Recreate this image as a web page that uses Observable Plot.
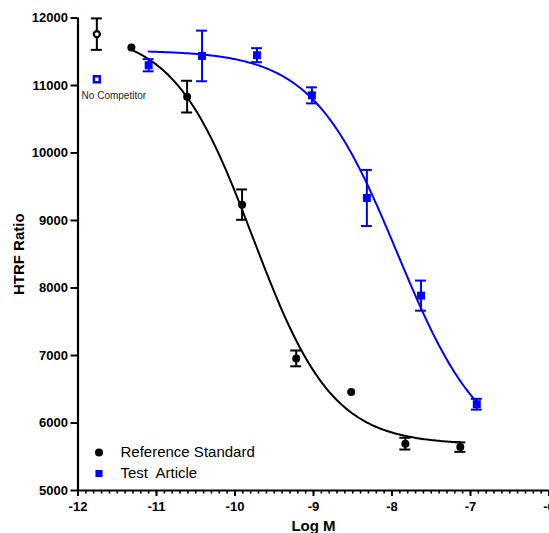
<!DOCTYPE html>
<html>
<head>
<meta charset="utf-8">
<script src="https://cdn.jsdelivr.net/npm/d3@7"></script>
<script src="https://cdn.jsdelivr.net/npm/@observablehq/plot@0.6"></script>
<style>
  html, body { margin: 0; padding: 0; background: #fff; }
  #chart { width: 549px; height: 533px; overflow: hidden; }
  #chart svg text { white-space: pre; }
</style>
</head>
<body>
<div id="chart"></div>
<script>
// Competition binding: HTRF ratio vs log molar concentration
const seriesNames = ["Reference Standard", "Test  Article"];
const seriesColors = ["#000000", "#0000ff"];

const refX = [-11.32, -10.61, -9.91, -9.22, -8.52, -7.83, -7.13];
const refY = [11563, 10835, 9235, 6957, 6461, 5694, 5643];
const refErr = [0, 235, 225, 117, 0, 87, 70];

const testX = [-11.10, -10.42, -9.72, -9.02, -8.32, -7.63, -6.92];
const testY = [11300, 11438, 11449, 10854, 9334, 7887, 6278];
const testErr = [90, 375, 104, 119, 416, 223, 80];

// "No Competitor" control wells
const noCompLabel = "No Competitor";
const noCompX = -11.76;
const noCompRefY = 11761, noCompRefErr = 233;
const noCompTestY = 11092, noCompTestErr = 0;

// Four-parameter logistic fit parameters
const refFit = {top: 11800, bottom: 5680, logIC50: -9.77, hill: 0.86};
const testFit = {top: 11520, bottom: 5500, logIC50: -7.93, hill: 0.80};

const xTicks = [-12, -11, -10, -9, -8, -7, -6];
const yTicks = [5000, 6000, 7000, 8000, 9000, 10000, 11000, 12000];
const xLabel = "Log M";
const yLabel = "HTRF Ratio";

// --- derived tables ---
const toRows = (xs, ys, es) => xs.map((x, i) => ({x, y: ys[i], e: es[i]}));
const refRows = toRows(refX, refY, refErr);
const testRows = toRows(testX, testY, testErr);
const ncRef = [{x: noCompX, y: noCompRefY, e: noCompRefErr}];
const ncTest = [{x: noCompX, y: noCompTestY, e: noCompTestErr}];

const logistic = (p) => (x) => p.bottom + (p.top - p.bottom) / (1 + Math.pow(10, (x - p.logIC50) * p.hill));
function fitCurve(p, xs) {
  const f = logistic(p);
  const x0 = d3.min(xs), x1 = d3.max(xs), n = 200;
  return d3.range(n + 1).map(i => { const x = x0 + (x1 - x0) * i / n; return {x, y: f(x)}; });
}
const refCurve = fitCurve(refFit, refX);
const testCurve = fitCurve(testFit, testX);

const minorTicks = d3.range(0, 61).map(i => -12 + i / 10);

// layout
const W = 549, H = 533;
const mL = 77.5, mR = 0.5, mT = 17.5, mB = 43;
const pxPerUnit = (W - mL - mR) / (xTicks[xTicks.length - 1] - xTicks[0]);
const capHalf = 5.5 / pxPerUnit;

// error bars are hidden when shorter than the symbol
function errorBars(rows, color) {
  const shown = rows.filter(d => d.e > 0);
  return [
    Plot.ruleX(shown, {x: "x", y1: d => d.y - d.e, y2: d => d.y + d.e, stroke: color, strokeWidth: 2}),
    Plot.ruleY(shown, {y: d => d.y + d.e, x1: d => d.x - capHalf, x2: d => d.x + capHalf, stroke: color, strokeWidth: 2}),
    Plot.ruleY(shown, {y: d => d.y - d.e, x1: d => d.x - capHalf, x2: d => d.x + capHalf, stroke: color, strokeWidth: 2})
  ];
}

const font = "'Liberation Sans', Arial, Helvetica, sans-serif";

const chart = Plot.plot({
  width: W, height: H,
  marginLeft: mL, marginRight: mR, marginTop: mT, marginBottom: mB,
  style: {fontFamily: font, background: "#fff", color: "#000", overflow: "hidden"},
  x: {domain: [xTicks[0], xTicks[xTicks.length - 1]]},
  y: {domain: [yTicks[0], yTicks[yTicks.length - 1]]},
  marks: [
    // axes
    Plot.axisY(yTicks, {tickSize: 7, tickPadding: 3, strokeWidth: 2, fontSize: 13, fontWeight: "bold", label: null, tickFormat: d => String(d)}),
    Plot.axisX(minorTicks, {tickSize: 3.5, strokeWidth: 1.6, tickFormat: () => "", label: null}),
    Plot.axisX(xTicks, {tickSize: 6, tickPadding: 5, strokeWidth: 2, fontSize: 13, fontWeight: "bold", label: null, tickFormat: d => String(d)}),
    Plot.ruleX([xTicks[0]], {y1: yTicks[0], y2: yTicks[yTicks.length - 1], strokeWidth: 2.2}),
    Plot.ruleY([yTicks[0]], {x1: xTicks[0], x2: xTicks[xTicks.length - 1], strokeWidth: 2.2}),
    Plot.text([yLabel], {frameAnchor: "left", dx: -59, rotate: -90, textAnchor: "middle", lineAnchor: "middle", fontSize: 15, fontWeight: "bold", fill: "#000"}),
    Plot.text([xLabel], {frameAnchor: "bottom", dy: 36, textAnchor: "middle", lineAnchor: "middle", fontSize: 15, fontWeight: "bold", fill: "#000"}),

    // fitted curves
    Plot.line(refCurve, {x: "x", y: "y", stroke: seriesColors[0], strokeWidth: 2}),
    Plot.line(testCurve, {x: "x", y: "y", stroke: seriesColors[1], strokeWidth: 2}),

    // error bars
    ...errorBars(refRows, seriesColors[0]),
    ...errorBars(testRows, seriesColors[1]),
    ...errorBars(ncRef, seriesColors[0]),

    // points
    Plot.dot(refRows, {x: "x", y: "y", r: 4, fill: seriesColors[0]}),
    Plot.dot(testRows, {x: "x", y: "y", r: 4.5, symbol: "square", fill: seriesColors[1]}),
    Plot.dot(ncRef, {x: "x", y: "y", r: 3, fill: "#fff", stroke: seriesColors[0], strokeWidth: 2.3}),
    Plot.dot(ncTest, {x: "x", y: "y", r: 3.3, symbol: "square", fill: "#fff", stroke: seriesColors[1], strokeWidth: 2.5}),
    Plot.text(ncTest, {x: "x", y: "y", text: () => noCompLabel, dx: 17, dy: 17, fontSize: 10, fill: "#222"}),

    // legend
    Plot.dot([seriesNames[0]], {frameAnchor: "bottom-left", dx: 21, dy: -38, r: 4, fill: seriesColors[0]}),
    Plot.dot([seriesNames[1]], {frameAnchor: "bottom-left", dx: 21, dy: -17, r: 4, symbol: "square", fill: seriesColors[1]}),
    Plot.text([seriesNames[0]], {frameAnchor: "bottom-left", dx: 42.5, dy: -38, textAnchor: "start", lineAnchor: "middle", fontSize: 15, fill: "#000"}),
    Plot.text([seriesNames[1]], {frameAnchor: "bottom-left", dx: 42.5, dy: -17, textAnchor: "start", lineAnchor: "middle", fontSize: 15, fill: "#000"})
  ]
});
document.getElementById("chart").appendChild(chart);
</script>
</body>
</html>
